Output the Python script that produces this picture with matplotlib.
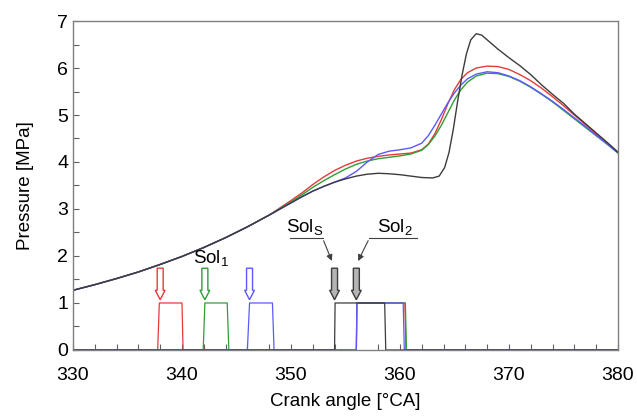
import numpy as np
import matplotlib
matplotlib.use("Agg")
import matplotlib.pyplot as plt
from matplotlib.patches import FancyArrow

plt.rcParams["font.family"] = ["Liberation Sans", "DejaVu Sans"]
plt.rcParams["mathtext.default"] = "regular"

# shared motored part of the pressure traces (crank angle, MPa)
common_ca = [330, 332, 334, 336, 338, 340, 342, 344, 346, 348]
common_p = [1.27, 1.39, 1.52, 1.66, 1.82, 1.99, 2.18, 2.39, 2.62, 2.87]

red_ca = [350, 351, 352, 353, 354, 355, 356, 357, 358, 359, 360, 361, 362, 362.6, 363.2, 363.8, 364.4, 365,
          365.6, 366.2, 367, 368, 369, 370, 371, 372, 373, 374, 375, 376, 377, 378, 379, 380]
red_p = [3.18, 3.34, 3.52, 3.68, 3.82, 3.93, 4.02, 4.08, 4.12, 4.15, 4.17, 4.19, 4.26, 4.38, 4.6, 4.9, 5.24,
         5.54, 5.76, 5.9, 6.0, 6.04, 6.03, 5.97, 5.86, 5.73, 5.57, 5.39, 5.2, 5.0, 4.8, 4.6, 4.41, 4.21]

green_ca = [350, 351, 352, 353, 354, 355, 356, 357, 358, 359, 360, 361, 362, 362.6, 363.2, 363.8, 364.4, 365,
            365.6, 366.2, 367, 368, 369, 370, 371, 372, 373, 374, 375, 376, 377, 378, 379, 380]
green_p = [3.15, 3.3, 3.46, 3.6, 3.73, 3.85, 3.95, 4.02, 4.07, 4.1, 4.13, 4.17, 4.25, 4.37, 4.55, 4.78, 5.05,
           5.32, 5.54, 5.7, 5.83, 5.89, 5.88, 5.82, 5.72, 5.59, 5.44, 5.28, 5.1, 4.92, 4.74, 4.56, 4.38, 4.19]

blue_ca = [350, 351, 352, 353, 354, 355, 356, 357, 358, 359, 360, 361, 362, 362.6, 363.2, 363.8, 364.4, 365,
           365.6, 366.2, 367, 368, 369, 370, 371, 372, 373, 374, 375, 376, 377, 378, 379, 380]
blue_p = [3.13, 3.26, 3.38, 3.48, 3.57, 3.66, 3.8, 4.0, 4.16, 4.23, 4.26, 4.3, 4.4, 4.56, 4.78, 5.02, 5.26,
          5.47, 5.64, 5.77, 5.87, 5.92, 5.9, 5.83, 5.73, 5.6, 5.45, 5.29, 5.12, 4.94, 4.76, 4.57, 4.39, 4.2]

black_ca = [350, 351, 352, 353, 354, 355, 356, 357, 358, 359, 360, 361, 362, 363, 363.6, 364.1, 364.5, 364.9,
            365.3, 365.7, 366.1, 366.5, 367, 367.5, 368, 369, 370, 371, 372, 373, 374, 375, 376, 377, 378,
            379, 380]
black_p = [3.13, 3.26, 3.38, 3.48, 3.57, 3.64, 3.7, 3.74, 3.76, 3.75, 3.73, 3.7, 3.67, 3.66, 3.7, 3.88, 4.2,
           4.7, 5.3, 5.85, 6.3, 6.6, 6.73, 6.7, 6.6, 6.4, 6.22, 6.05, 5.86, 5.64, 5.44, 5.25, 5.02, 4.82, 4.62,
           4.42, 4.21]

# injector / solenoid command signals
red_sig_ca = [330, 337.77, 337.92, 340.0, 340.1, 356.0, 356.05, 360.45, 360.55, 380]
red_sig = [0, 0, 1, 1, 0, 0, 1, 1, 0, 0]
green_sig_ca = [330, 341.95, 342.1, 344.15, 344.3, 356.0, 356.05, 360.5, 360.6, 380]
green_sig = [0, 0, 1, 1, 0, 0, 1, 1, 0, 0]
blue_sig_ca = [330, 346.0, 346.2, 348.3, 348.45, 356.0, 356.05, 360.3, 360.4, 380]
blue_sig = [0, 0, 1, 1, 0, 0, 1, 1, 0, 0]
black_sig_ca = [330, 354.0, 354.05, 358.6, 358.7, 380]
black_sig = [0, 0, 1, 1, 0, 0]

colors = {"red": "#e8393a", "green": "#2f9e35", "blue": "#5a5aff", "black": "#3c3c3c"}

fig = plt.figure(figsize=(6.37, 4.16), dpi=100)
ax = fig.add_axes([0.1146, 0.1587, 0.8554, 0.7908])

for ca, p, c in [(red_ca, red_p, "red"), (green_ca, green_p, "green"),
                 (blue_ca, blue_p, "blue"), (black_ca, black_p, "black")]:
    ax.plot(common_ca + ca, common_p + p, color=colors[c], lw=1.0)

for ca, s, c in [(red_sig_ca, red_sig, "red"), (green_sig_ca, green_sig, "green"),
                 (blue_sig_ca, blue_sig, "blue"), (black_sig_ca, black_sig, "black")]:
    ax.plot(ca, s, color=colors[c], lw=0.9)

# block arrows marking injection start
arrow_pos = [(338.0, "red", "white"), (342.1, "green", "white"), (346.2, "blue", "white"),
             (354.0, "black", "#b4b4b4"), (356.0, "black", "#b4b4b4")]
for x, c, fc in arrow_pos:
    ax.add_patch(FancyArrow(x, 1.74, 0, -0.67, width=0.55, head_width=0.9, head_length=0.2,
                            length_includes_head=True, facecolor=fc, edgecolor=colors[c], lw=1.0))

ax.text(342.7, 1.96, "Sol$_1$", fontsize=13.5, ha="center", va="center")
ax.text(351.3, 2.62, "Sol$_S$", fontsize=13.5, ha="center", va="center")
ax.text(359.5, 2.62, "Sol$_2$", fontsize=13.5, ha="center", va="center")

ax.plot([349.9, 352.9], [2.38, 2.38], color="#404040", lw=0.8)
ax.annotate("", xy=(353.85, 1.84), xytext=(352.9, 2.38),
            arrowprops=dict(arrowstyle="-|>", color="#404040", lw=0.8, mutation_scale=9))
ax.plot([357.2, 361.6], [2.38, 2.38], color="#404040", lw=0.8)
ax.annotate("", xy=(356.05, 1.84), xytext=(357.2, 2.38),
            arrowprops=dict(arrowstyle="-|>", color="#404040", lw=0.8, mutation_scale=9))

ax.set_xlim(330, 380)
ax.set_ylim(0, 7)
ax.set_xticks(np.arange(330, 381, 10))
ax.set_xticks(np.arange(330, 381, 2), minor=True)
ax.set_yticks(np.arange(0, 8, 1))
ax.set_yticks(np.arange(0, 7.01, 0.5), minor=True)
ax.tick_params(which="both", direction="in", length=4, width=0.8, color="#606060", labelsize=14)
ax.tick_params(axis="x", pad=12)
for sp in ax.spines.values():
    sp.set_color("#808080")
    sp.set_linewidth(1.0)

ax.set_xlabel("Crank angle [°CA]", fontsize=13.5, labelpad=7)
ax.set_ylabel("Pressure [MPa]", fontsize=13.5, labelpad=17)

fig.savefig("out.png", dpi=100)
